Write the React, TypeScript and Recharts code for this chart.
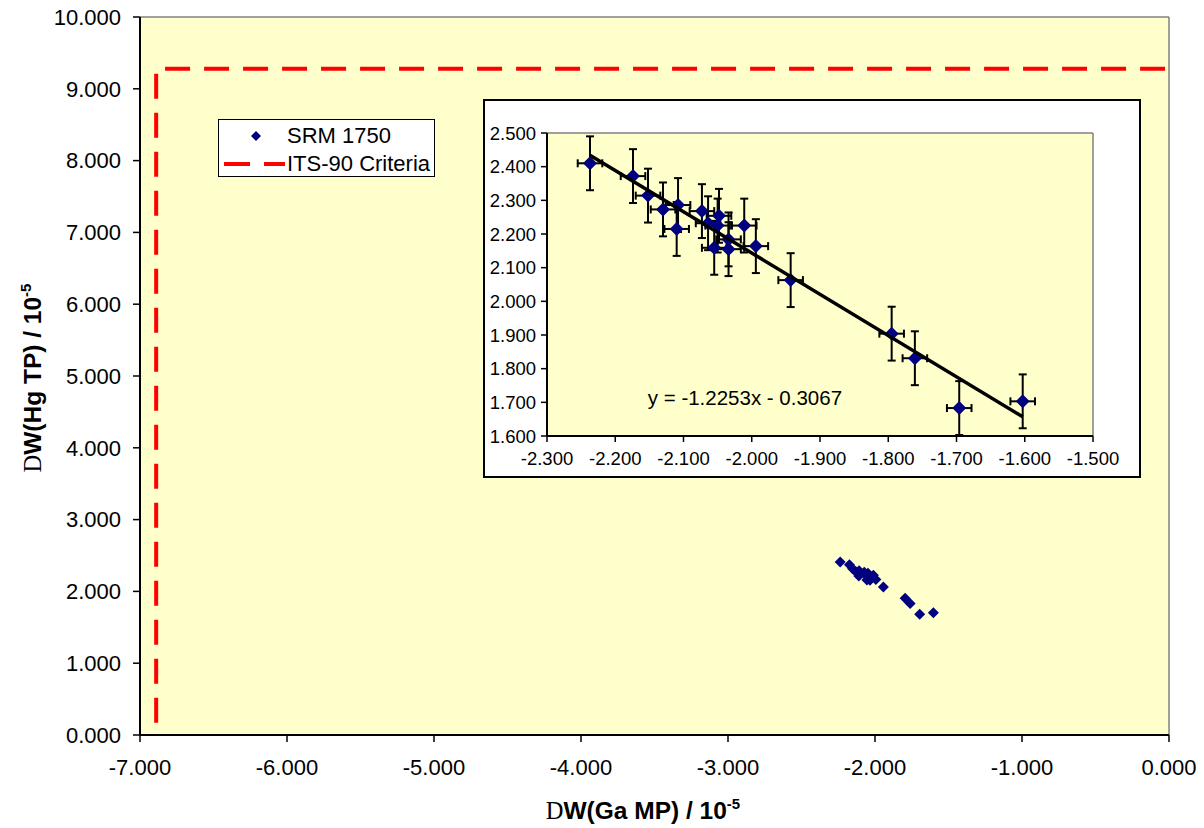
import React from 'react';
import {
  ScatterChart,
  Scatter,
  XAxis,
  YAxis,
  CartesianGrid,
  ErrorBar,
  ReferenceLine,
  ReferenceDot,
  Legend,
  Label,
} from 'recharts';

// ---- data ----
const gaMP = [-2.237, -2.174, -2.152, -2.130, -2.108, -2.110, -2.073, -2.064, -2.050, -2.048,
  -2.034, -2.055, -2.034, -2.011, -1.994, -1.943, -1.795, -1.761, -1.696, -1.603];
const hgTP = [2.410, 2.372, 2.314, 2.273, 2.286, 2.215, 2.268, 2.232, 2.225, 2.254,
  2.184, 2.159, 2.155, 2.225, 2.164, 2.063, 1.904, 1.831, 1.683, 1.703];
const gaErr = [0.018, 0.018, 0.018, 0.018, 0.018, 0.018, 0.018, 0.018, 0.018, 0.018,
  0.018, 0.018, 0.018, 0.018, 0.018, 0.018, 0.018, 0.018, 0.018, 0.018];
const hgErr = [0.08, 0.08, 0.08, 0.08, 0.08, 0.08, 0.08, 0.08, 0.08, 0.08,
  0.08, 0.08, 0.08, 0.08, 0.08, 0.08, 0.08, 0.08, 0.08, 0.08];

const itsX = [-6.89, -6.89, 0];
const itsY = [0.17, 9.28, 9.28];

const trendX = [-2.237, -1.603];
const trendY = [2.434, 1.657];

const mainXTicks = [-7, -6, -5, -4, -3, -2, -1, 0];
const mainYTicks = [0, 1, 2, 3, 4, 5, 6, 7, 8, 9, 10];
const insetXTicks = [-2.3, -2.2, -2.1, -2.0, -1.9, -1.8, -1.7, -1.6, -1.5];
const insetYTicks = [1.6, 1.7, 1.8, 1.9, 2.0, 2.1, 2.2, 2.3, 2.4, 2.5];

const seriesName = 'SRM 1750';
const criteriaName = 'ITS-90 Criteria';
const equationText = 'y = -1.2253x - 0.3067';

// ---- derived tables ----
const srmData = gaMP.map((x, i) => ({ x, y: hgTP[i], ex: gaErr[i], ey: hgErr[i] }));
const itsData = itsX.map((x, i) => ({ x, y: itsY[i] }));
const trendData = trendX.map((x, i) => ({ x, y: trendY[i] }));

const FONT = '"Liberation Sans", Arial, sans-serif';
const SERIF = '"Liberation Serif", "Times New Roman", serif';
const NAVY = '#000080';
const RED = '#FF0000';

const fmt = (v: number) => v.toFixed(3);

const diamond = (r: number) => (props: any) => {
  const { cx, cy } = props;
  if (cx == null || cy == null) return <g />;
  return (
    <polygon
      points={`${cx},${cy - r} ${cx + r},${cy} ${cx},${cy + r} ${cx - r},${cy}`}
      fill={NAVY}
      stroke="none"
    />
  );
};

const noShape = () => <g />;

const XTitle = (props: any) => {
  const vb = props.viewBox || { x: 0, y: 0, width: 0, height: 0 };
  return (
    <text x={643} y={vb.y + 84} textAnchor="middle" fontFamily={FONT} fontWeight="bold" fontSize={24.5} fill="#000">
      <tspan fontFamily={SERIF} fontWeight="normal">D</tspan>
      <tspan>W(Ga MP) / 10</tspan>
      <tspan fontSize={15} dy={-10}>-5</tspan>
    </text>
  );
};

const YTitle = () => {
  return (
    <text
      x={41}
      y={378}
      transform="rotate(-90, 41, 378)"
      textAnchor="middle"
      fontFamily={FONT}
      fontWeight="bold"
      fontSize={24.5}
      fill="#000"
    >
      <tspan fontFamily={SERIF} fontWeight="normal">D</tspan>
      <tspan>W(Hg TP) / 10</tspan>
      <tspan fontSize={15} dy={-10}>-5</tspan>
    </text>
  );
};

const LegendBox = () => (
  <div
    style={{
      width: 217,
      height: 58,
      border: '1.5px solid #000',
      background: '#fff',
      fontFamily: FONT,
      fontSize: 22,
      color: '#000',
      boxSizing: 'border-box',
      position: 'relative',
    }}
  >
    <svg width={70} height={58} style={{ position: 'absolute', left: 0, top: 0 }}>
      <polygon points="37,11 42,16 37,21 32,16" fill={NAVY} />
      <line x1={5} y1={44} x2={66} y2={44} stroke={RED} strokeWidth={4} strokeDasharray="26 14" />
    </svg>
    <div style={{ position: 'absolute', left: 68, top: 3, lineHeight: '26px', whiteSpace: 'nowrap' }}>{seriesName}</div>
    <div style={{ position: 'absolute', left: 68, top: 31, lineHeight: '26px', whiteSpace: 'nowrap' }}>{criteriaName}</div>
  </div>
);

export default function App() {
  return (
    <div style={{ position: 'absolute', left: 0, top: 0, width: 1204, height: 828, background: '#fff', fontFamily: FONT }}>
      <ScatterChart width={1204} height={828} margin={{ top: 17, right: 35, bottom: 0, left: 0 }}>
        <CartesianGrid horizontal={false} vertical={false} fill="#FFFFCC" stroke="none" />
        <XAxis
          type="number"
          dataKey="x"
          domain={[-7, 0]}
          ticks={mainXTicks}
          tickFormatter={fmt}
          height={93}
          axisLine={{ stroke: '#000', strokeWidth: 2 }}
          tickLine={{ stroke: '#000', strokeWidth: 1.5 }}
          tickSize={7}
          tickMargin={17}
          tick={{ fill: '#000', fontSize: 22, fontFamily: FONT }}
          allowDataOverflow
        >
          <Label content={<XTitle />} />
        </XAxis>
        <YAxis
          type="number"
          dataKey="y"
          domain={[0, 10]}
          ticks={mainYTicks}
          tickFormatter={fmt}
          width={140}
          axisLine={{ stroke: '#000', strokeWidth: 2 }}
          tickLine={{ stroke: '#000', strokeWidth: 1.5 }}
          tickSize={7}
          tickMargin={12}
          tick={{ fill: '#000', fontSize: 22, fontFamily: FONT }}
          allowDataOverflow
        >
          <Label content={<YTitle />} />
        </YAxis>
        <ReferenceLine y={10} stroke="#808080" strokeWidth={1.5} />
        <ReferenceLine x={0} stroke="#808080" strokeWidth={1.5} />
        <Legend
          layout="vertical"
          align="center"
          verticalAlign="middle"
          content={<LegendBox />}
          wrapperStyle={{ position: 'absolute', left: 218, top: 119, width: 217, height: 58 }}
        />
        <Scatter
          name={criteriaName}
          data={itsData}
          line={{ stroke: RED, strokeWidth: 4, strokeDasharray: '25 14' }}
          lineType="joint"
          shape={noShape}
          isAnimationActive={false}
        />
        <Scatter name={seriesName} data={srmData} shape={diamond(5.5)} isAnimationActive={false} />
      </ScatterChart>

      <div
        style={{
          position: 'absolute',
          left: 483,
          top: 99,
          width: 654,
          height: 375,
          border: '2px solid #000',
          background: '#fff',
        }}
      >
        <ScatterChart width={654} height={375} margin={{ top: 32, right: 46, bottom: 0, left: 0 }}>
          <CartesianGrid horizontal={false} vertical={false} fill="#FFFFCC" stroke="none" />
          <XAxis
            type="number"
            dataKey="x"
            domain={[-2.3, -1.5]}
            ticks={insetXTicks}
            tickFormatter={fmt}
            height={40}
            axisLine={{ stroke: '#000', strokeWidth: 2 }}
            tickLine={{ stroke: '#000', strokeWidth: 1.5 }}
            tickSize={6}
            tickMargin={10}
            tick={{ fill: '#000', fontSize: 18.5, fontFamily: FONT }}
            interval={0}
            allowDataOverflow
          />
          <YAxis
            type="number"
            dataKey="y"
            domain={[1.6, 2.5]}
            ticks={insetYTicks}
            tickFormatter={fmt}
            width={62}
            axisLine={{ stroke: '#000', strokeWidth: 2 }}
            tickLine={{ stroke: '#000', strokeWidth: 1.5 }}
            tickSize={6}
            tickMargin={5}
            tick={{ fill: '#000', fontSize: 18.5, fontFamily: FONT }}
            interval={0}
            allowDataOverflow
          />
          <ReferenceLine y={2.5} stroke="#808080" strokeWidth={1.5} />
          <ReferenceLine x={-1.5} stroke="#808080" strokeWidth={1.5} />
          <Scatter
            name={seriesName}
            data={srmData}
            shape={diamond(7)}
            isAnimationActive={false}
          >
            <ErrorBar dataKey="ey" direction="y" width={4} stroke="#000" strokeWidth={2} />
            <ErrorBar dataKey="ex" direction="x" width={4} stroke="#000" strokeWidth={2} />
          </Scatter>
          <Scatter
            name="trend"
            data={trendData}
            line={{ stroke: '#000', strokeWidth: 3.5 }}
            lineType="joint"
            shape={noShape}
            isAnimationActive={false}
          />
          <ReferenceDot
            x={-2.01}
            y={1.713}
            r={0}
            fill="none"
            stroke="none"
            label={{ value: equationText, position: 'center', fill: '#000', fontSize: 20.5, fontFamily: FONT }}
          />
        </ScatterChart>
      </div>
    </div>
  );
}
